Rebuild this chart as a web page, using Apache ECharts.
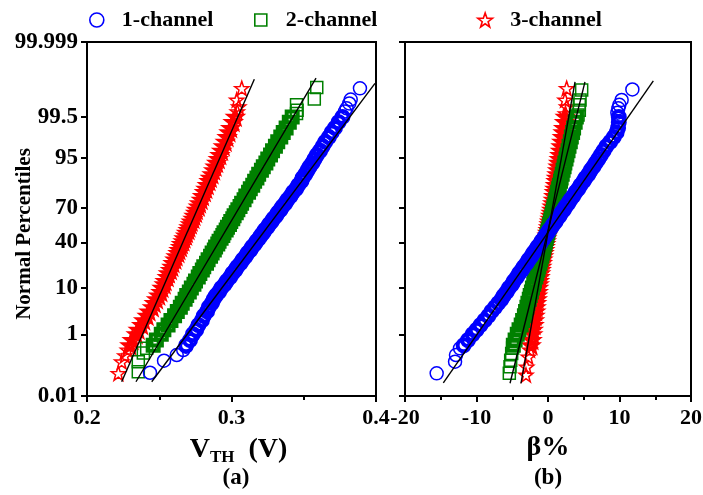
<!DOCTYPE html>
<html><head><meta charset="utf-8">
<script src="https://cdn.jsdelivr.net/npm/echarts@6/dist/echarts.min.js"></script>
<style>html,body{margin:0;padding:0;background:#fff}#c{width:703px;height:495px}</style>
</head><body><div id="c"></div>
<script>
// Percentile levels (%) of the dense part of each probability plot
const PCT = [0.5,0.7,1,1.3,1.7,2.2,2.8,3.5,4.3,5.2,6.2,7.3,8.5,10,11.5,13,15,17,19,21,23.5,26,28.5,31,33.5,36,38.5,41,43.5,46,48.5,51,53.5,56,58.5,61,63.5,66,68.5,71,73.5,76,78.5,81,83,85,87,88.5,90,91.5,92.7,93.8,94.8,95.7,96.5,97.2,97.8,98.3,98.7,99,99.3,99.5];

// (a) V_TH (V) values at PCT
const RED_A = [0.2297,0.2313,0.2341,0.2355,0.2379,0.2393,0.2417,0.2430,0.2453,0.2466,0.2482,0.2497,0.2512,0.2520,0.2535,0.2541,0.2556,0.2564,0.2578,0.2588,0.2596,0.2609,0.2617,0.2630,0.2637,0.2648,0.2654,0.2665,0.2672,0.2683,0.2689,0.2700,0.2706,0.2716,0.2722,0.2734,0.2741,0.2752,0.2758,0.2771,0.2779,0.2791,0.2800,0.2813,0.2823,0.2833,0.2845,0.2854,0.2866,0.2877,0.2887,0.2898,0.2909,0.2920,0.2932,0.2944,0.2957,0.2970,0.2983,0.2995,0.3012,0.3027];
const GREEN_A = [0.2458,0.2480,0.2514,0.2532,0.2561,0.2581,0.2606,0.2625,0.2646,0.2659,0.2679,0.2690,0.2708,0.2722,0.2740,0.2751,0.2770,0.2781,0.2798,0.2808,0.2827,0.2838,0.2855,0.2866,0.2881,0.2890,0.2905,0.2914,0.2928,0.2940,0.2948,0.2963,0.2972,0.2986,0.2995,0.3009,0.3018,0.3033,0.3044,0.3059,0.3070,0.3087,0.3099,0.3118,0.3130,0.3147,0.3160,0.3176,0.3188,0.3207,0.3220,0.3238,0.3251,0.3270,0.3284,0.3304,0.3320,0.3341,0.3358,0.3378,0.3400,0.3420];
const BLUE_A = [0.2686,0.2713,0.2733,0.2756,0.2771,0.2795,0.2808,0.2831,0.2843,0.2864,0.2876,0.2892,0.2914,0.2930,0.2953,0.2967,0.2991,0.3006,0.3027,0.3040,0.3063,0.3078,0.3098,0.3111,0.3131,0.3143,0.3161,0.3174,0.3191,0.3203,0.3219,0.3231,0.3249,0.3260,0.3277,0.3290,0.3308,0.3320,0.3339,0.3352,0.3373,0.3387,0.3409,0.3426,0.3447,0.3462,0.3484,0.3492,0.3511,0.3527,0.3541,0.3560,0.3575,0.3591,0.3613,0.3631,0.3649,0.3674,0.3693,0.3716,0.3741,0.3768];
// sparse tail points [value, percentile]
const RED_A_TAIL = [[0.2217,0.067],[0.2240,0.161],[0.2262,0.25],[0.2280,0.37],[0.3040,99.65],[0.3050,99.75],[0.3036,99.845],[0.3071,99.936]];
const GREEN_A_TAIL = [[0.2355,0.076],[0.2355,0.161],[0.2390,0.30],[0.2413,0.41],[0.3450,99.6],[0.3454,99.68],[0.3450,99.78],[0.3573,99.855],[0.3590,99.94]];
const BLUE_A_TAIL = [[0.2436,0.07],[0.2533,0.173],[0.2621,0.26],[0.2666,0.366],[0.2685,0.457],[0.3785,99.65],[0.3797,99.72],[0.3815,99.80],[0.3825,99.85],[0.3889,99.936]];

// (b) beta % values at PCT
const RED_B = [-2.36,-2.23,-2.13,-2.07,-1.95,-1.89,-1.82,-1.71,-1.66,-1.60,-1.51,-1.46,-1.37,-1.32,-1.23,-1.20,-1.12,-1.04,-0.96,-0.88,-0.79,-0.72,-0.62,-0.56,-0.46,-0.40,-0.33,-0.24,-0.19,-0.10,-0.05,0.03,0.09,0.17,0.23,0.31,0.37,0.45,0.52,0.59,0.67,0.74,0.82,0.90,0.97,1.05,1.13,1.19,1.27,1.35,1.42,1.50,1.58,1.66,1.75,1.83,1.93,2.02,2.12,2.20,2.32,2.42];
const GREEN_B = [-4.85,-4.60,-4.30,-4.05,-3.75,-3.55,-3.30,-3.14,-2.95,-2.81,-2.62,-2.49,-2.32,-2.18,-2.00,-1.89,-1.70,-1.57,-1.40,-1.29,-1.13,-1.01,-0.87,-0.78,-0.64,-0.56,-0.43,-0.36,-0.24,-0.16,-0.05,0.03,0.15,0.22,0.34,0.42,0.54,0.63,0.75,0.84,0.98,1.08,1.23,1.34,1.48,1.59,1.75,1.84,1.99,2.11,2.25,2.36,2.52,2.64,2.80,2.94,3.12,3.26,3.44,3.58,3.80,3.96];
const BLUE_B = [-11.80,-11.19,-10.53,-9.99,-9.44,-8.88,-8.34,-7.91,-7.40,-6.95,-6.50,-6.20,-5.78,-5.45,-5.02,-4.78,-4.35,-4.05,-3.66,-3.40,-2.98,-2.70,-2.33,-2.07,-1.71,-1.46,-1.13,-0.90,-0.58,-0.35,-0.04,0.19,0.50,0.73,1.06,1.28,1.62,1.85,2.21,2.46,2.84,3.12,3.53,3.86,4.24,4.55,4.98,5.24,5.66,5.98,6.35,6.68,7.05,7.40,7.78,8.16,8.70,9.20,9.60,9.80,9.90,9.90];
const RED_B_TAIL = [[-3.08,0.059],[-2.98,0.11],[-2.75,0.23],[-2.52,0.37],[2.45,99.6],[2.61,99.75],[2.38,99.845],[2.61,99.936]];
const GREEN_B_TAIL = [[-5.41,0.067],[-5.31,0.11],[-5.22,0.18],[-5.08,0.29],[-4.95,0.42],[4.20,99.56],[4.38,99.68],[4.38,99.78],[4.48,99.845],[4.71,99.927]];
const BLUE_B_TAIL = [[-15.57,0.067],[-13.0,0.161],[-12.87,0.26],[-12.31,0.41],[9.70,99.62],[9.84,99.72],[9.98,99.78],[10.3,99.845],[11.8,99.93]];

// fitted straight lines [value, percentile] endpoints
const FIT_A_RED = [[0.2240,0.034],[0.3158,99.969]];
const FIT_A_GREEN = [[0.2339,0.034],[0.3585,99.972]];
const FIT_A_BLUE = [[0.2448,0.034],[0.3993,99.957]];
const FIT_B_RED = [[-3.78,0.030],[3.78,99.962]];
const FIT_B_GREEN = [[-5.31,0.030],[5.17,99.962]];
const FIT_B_BLUE = [[-14.64,0.031],[14.73,99.965]];

const Y_TICKS = [0.01, 1, 10, 40, 70, 95, 99.5, 99.999];
const Y_TICK_LABELS = ['0.01','1','10','40','70','95','99.5','99.999'];
const NAMES = ['1-channel','2-channel','3-channel'];

// probit scale (inverse normal CDF, Acklam)
function probit(p){
  const a=[-3.969683028665376e+01,2.209460984245205e+02,-2.759285104469687e+02,1.383577518672690e+02,-3.066479806614716e+01,2.506628277459239e+00];
  const b=[-5.447609879822406e+01,1.615858368580409e+02,-1.556989798598866e+02,6.680131188771972e+01,-1.328068155288572e+01];
  const c=[-7.784894002430293e-03,-3.223964580411365e-01,-2.400758277161838e+00,-2.549732539343734e+00,4.374664141464968e+00,2.938163982698783e+00];
  const d=[7.784695709041462e-03,3.224671290700398e-01,2.445134137142996e+00,3.754408661907416e+00];
  const pl=0.02425;
  let q,r;
  if(p<pl){q=Math.sqrt(-2*Math.log(p));return (((((c[0]*q+c[1])*q+c[2])*q+c[3])*q+c[4])*q+c[5])/((((d[0]*q+d[1])*q+d[2])*q+d[3])*q+1);}
  if(p<=1-pl){q=p-0.5;r=q*q;return (((((a[0]*r+a[1])*r+a[2])*r+a[3])*r+a[4])*r+a[5])*q/(((((b[0]*r+b[1])*r+b[2])*r+b[3])*r+b[4])*r+1);}
  q=Math.sqrt(-2*Math.log(1-p));return -(((((c[0]*q+c[1])*q+c[2])*q+c[3])*q+c[4])*q+c[5])/((((d[0]*q+d[1])*q+d[2])*q+d[3])*q+1);
}
const Z = p => probit(p/100);
const body = vals => vals.map((v,i)=>[v, Z(PCT[i])]);
const pts = arr => arr.map(d=>[d[0], Z(d[1])]);
const Y_Z = Y_TICKS.map(Z);

const FONT = 'Liberation Serif';
const BLUE='#0000ff', GREEN='#008000', RED='#ff0000';
const STAR='path://M50,0L61.76,33.82L97.55,34.55L69.02,56.18L79.39,90.45L50,70L20.61,90.45L30.98,56.18L2.45,34.55L38.24,33.82Z';
const SQUARE='path://M0,0H10V10H0Z';

function scatter(name, data, xi, symbol, size, color, bw){
  return {type:'scatter', name, xAxisIndex:xi, yAxisIndex:xi, data, symbol, symbolSize:size,
    itemStyle:{color:'rgba(0,0,0,0)', borderColor:color, borderWidth:bw, opacity:1},
    emphasis:{disabled:true}, animation:false, z:2, silent:true};
}
function group(name, bodyVals, tail, xi, symbol, size, bsize, bw, color){
  return [scatter(name, body(bodyVals), xi, symbol, bsize, color, bw),
          scatter(name, pts(tail), xi, symbol, size, color, 1.5)];
}
function fit(data, xi){
  return {type:'line', name:'fit', xAxisIndex:xi, yAxisIndex:xi, data:pts(data), symbol:'none',
    lineStyle:{color:'#000', width:1.4}, animation:false, z:5, silent:true};
}
function yAxis(gi, labels){
  return {type:'value', gridIndex:gi, min:Z(0.01), max:Z(99.999),
    name: labels ? 'Normal Percentiles' : '', nameLocation:'middle', nameRotate:90, nameGap:52, nameMoveOverlap:false,
    nameTextStyle:{fontFamily:FONT, fontWeight:'bold', fontSize:21, color:'#000', padding:[0,30,0,0]},
    axisLine:{show:true, onZero:false, lineStyle:{color:'#000', width:2}},
    axisTick:{show:true, inside:false, length:6, lineStyle:{color:'#000', width:2}, customValues:Y_Z},
    axisLabel:{show:labels, margin:9, fontFamily:FONT, fontWeight:'bold', fontSize:23, color:'#000', customValues:Y_Z,
      formatter:v=>{let bi=0;Y_Z.forEach((z,i)=>{if(Math.abs(z-v)<Math.abs(Y_Z[bi]-v))bi=i;});return Y_TICK_LABELS[bi];}},
    splitLine:{show:false}};
}
function xAxis(gi, min, max, interval, name, rich, pad){
  return {type:'value', gridIndex:gi, min, max, interval,
    name, nameLocation:'middle', nameGap:38, nameMoveOverlap:false,
    nameTextStyle:{fontFamily:FONT, fontWeight:'bold', fontSize:28, color:'#000', rich, padding:pad},
    axisLine:{show:true, onZero:false, lineStyle:{color:'#000', width:2}},
    axisTick:{show:true, inside:false, length:6, lineStyle:{color:'#000', width:2}},
    minorTick:{show:true, splitNumber:2, length:4, lineStyle:{color:'#000', width:2}},
    axisLabel:{margin:11, fontFamily:FONT, fontWeight:'bold', fontSize:22, color:'#000', formatter:v=>String(+v.toFixed(2))},
    splitLine:{show:false}, minorSplitLine:{show:false}};
}
const legTxt = {fontFamily:FONT, fontWeight:'bold', fontSize:22, color:'#000'};
function legend(name, left, icon, color, w){
  return {data:[name], left, top:4, icon, itemWidth:40, itemHeight:w, selectedMode:false,
    itemStyle:{color:'rgba(0,0,0,0)', borderColor:color, borderWidth:1.6}, textStyle:legTxt};
}

const chart = echarts.init(document.getElementById('c'), null, {renderer:'canvas'});
chart.setOption({
  backgroundColor:'#fff',
  animation:false,
  legend:[legend(NAMES[0],84,'circle',BLUE,14), legend(NAMES[1],249,SQUARE,GREEN,12), legend(NAMES[2],472,STAR,RED,14)],
  title:[
    {text:'(a)', left:231, top:462, textAlign:'center', textStyle:{fontFamily:FONT, fontWeight:'bold', fontSize:23, color:'#000'}},
    {text:'(b)', left:543, top:462, textAlign:'center', textStyle:{fontFamily:FONT, fontWeight:'bold', fontSize:23, color:'#000'}}
  ],
  grid:[
    {left:87, top:42, width:289, height:354, show:true, borderColor:'#000', borderWidth:2, containLabel:false, outerBoundsMode:'none'},
    {left:405, top:42, width:286, height:354, show:true, borderColor:'#000', borderWidth:2, containLabel:false, outerBoundsMode:'none'}
  ],
  xAxis:[
    xAxis(0, 0.2, 0.4, 0.1, '{v|V}{s|TH}{v|  (V)}', {v:{fontFamily:FONT, fontWeight:'bold', fontSize:28, lineHeight:32, color:'#000'}, s:{fontFamily:FONT, fontWeight:'bold', fontSize:17, lineHeight:16, verticalAlign:'bottom', color:'#000'}}, [0,0,0,14]),
    xAxis(1, -20, 20, 10, 'β%', {}, 0)
  ],
  yAxis:[yAxis(0,true), yAxis(1,false)],
  series:[].concat(
    group(NAMES[2], RED_A, RED_A_TAIL, 0, STAR, 14, 12, 3.5, RED),
    group(NAMES[1], GREEN_A, GREEN_A_TAIL, 0, 'rect', 12, 11, 4, GREEN),
    group(NAMES[0], BLUE_A, BLUE_A_TAIL, 0, 'circle', 13, 12, 4, BLUE),
    group(NAMES[2], RED_B, RED_B_TAIL, 1, STAR, 14, 12, 3.5, RED),
    group(NAMES[1], GREEN_B, GREEN_B_TAIL, 1, 'rect', 12, 11, 4, GREEN),
    group(NAMES[0], BLUE_B, BLUE_B_TAIL, 1, 'circle', 13, 12, 4, BLUE),
    [fit(FIT_A_RED,0), fit(FIT_A_GREEN,0), fit(FIT_A_BLUE,0),
     fit(FIT_B_RED,1), fit(FIT_B_GREEN,1), fit(FIT_B_BLUE,1)]
  )
});
</script></body></html>
